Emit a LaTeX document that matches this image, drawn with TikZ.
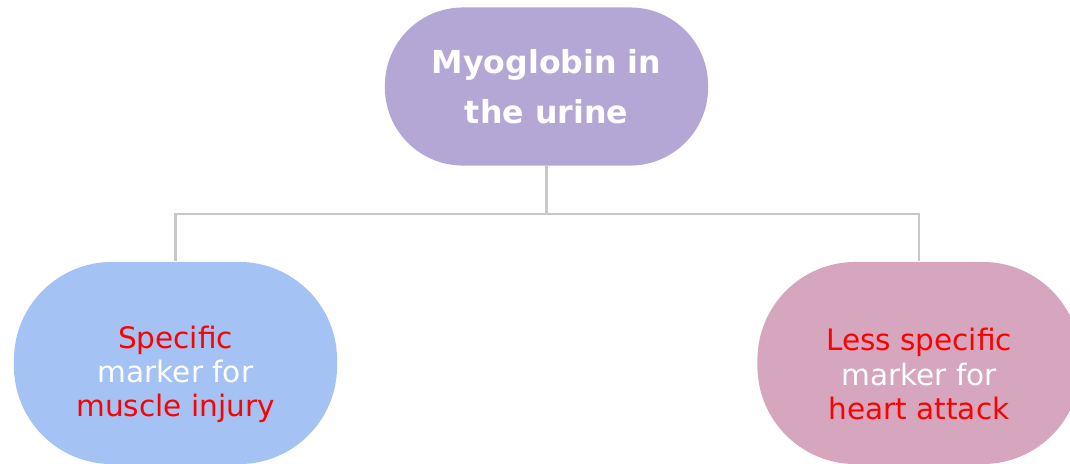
\documentclass[tikz,border=0pt]{standalone}
\usepackage{fontspec}
\setmainfont{DejaVu Sans}
\usepackage{tikz}

\definecolor{topfill}{HTML}{B4A7D6}
\definecolor{leftfill}{HTML}{A4C2F4}
\definecolor{rightfill}{HTML}{D5A6BD}
\definecolor{linkgray}{HTML}{C8C8C8}

\begin{document}
\begin{tikzpicture}[x=0.01cm,y=-0.01cm,
  every node/.style={rectangle,align=center,inner sep=0pt},
  topbox/.style={fill=topfill,minimum width=3.23cm,minimum height=1.58cm,
    rounded corners=0.78cm,text=white,font=\fontsize{9}{14.2}\selectfont\bfseries},
  leafbox/.style={minimum width=3.23cm,minimum height=2.02cm,
    rounded corners=0.98cm},
  leaftext/.style={text=white,font=\fontsize{8.4}{9.7}\selectfont},
  link/.style={draw=linkgray,line width=0.8pt}]
  \clip (0,0) rectangle (1070,463);
  \fill[white] (0,0) rectangle (1070,463);
  \node[topbox] (Myo) at (546.5,86.5) {Myoglobin in\\the urine};
  \node[leafbox,fill=leftfill] (Spec) at (175.5,363) {};
  \node[leafbox,fill=rightfill] (Less) at (919,363) {};
  % leaf texts sit a little below the shape centre
  \node[leaftext] (SpecTxt) at ([yshift=-0.11cm]Spec.center)
    {\textcolor{red}{Specific}\\marker for\\\textcolor{red}{muscle injury}};
  \node[leaftext] (LessTxt) at ([yshift=-0.11cm]Less.center)
    {\textcolor{red}{Less specific}\\marker for\\\textcolor{red}{heart attack}};
  \coordinate (bus) at (546.5,214);
  \draw[link] (Myo.south) -- (bus) -| (Spec.north);
  \draw[link] (bus) -| (Less.north);
\end{tikzpicture}
\end{document}
